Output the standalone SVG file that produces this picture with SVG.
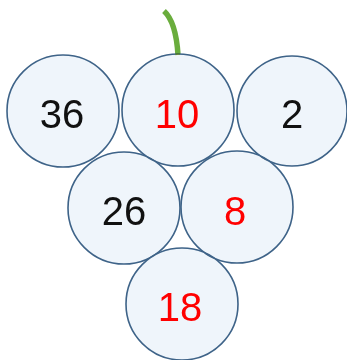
<svg xmlns="http://www.w3.org/2000/svg" width="347" height="360" viewBox="0 0 347 360">
<style>
.g{fill:#eff5fb;stroke:#3e6388;stroke-width:1.6;mix-blend-mode:darken}
.t{font-family:"Liberation Sans",Arial,sans-serif;font-size:40px;text-anchor:middle}
.k{fill:#111}
.r{fill:#ff0000}
</style>
<rect width="347" height="360" fill="#fff"/>
<g id="connectors">
<path d="M164,11 Q176,22 178,55" fill="none" stroke="#6aad3d" stroke-width="5.5"/>
</g>
<g id="n36"><circle class="g" cx="63" cy="111" r="56"/><text class="t k" x="62" y="128">36</text></g>
<g id="n10"><circle class="g" cx="178" cy="110" r="56"/><text class="t r" x="177" y="128">10</text></g>
<g id="n2"><circle class="g" cx="292" cy="111" r="55"/><text class="t k" x="292" y="128">2</text></g>
<g id="n26"><circle class="g" cx="124" cy="208" r="56"/><text class="t k" x="124" y="225">26</text></g>
<g id="n8"><circle class="g" cx="237" cy="207" r="56"/><text class="t r" x="235" y="225">8</text></g>
<g id="n18"><circle class="g" cx="182" cy="304" r="56"/><text class="t r" x="180" y="321">18</text></g>
</svg>
